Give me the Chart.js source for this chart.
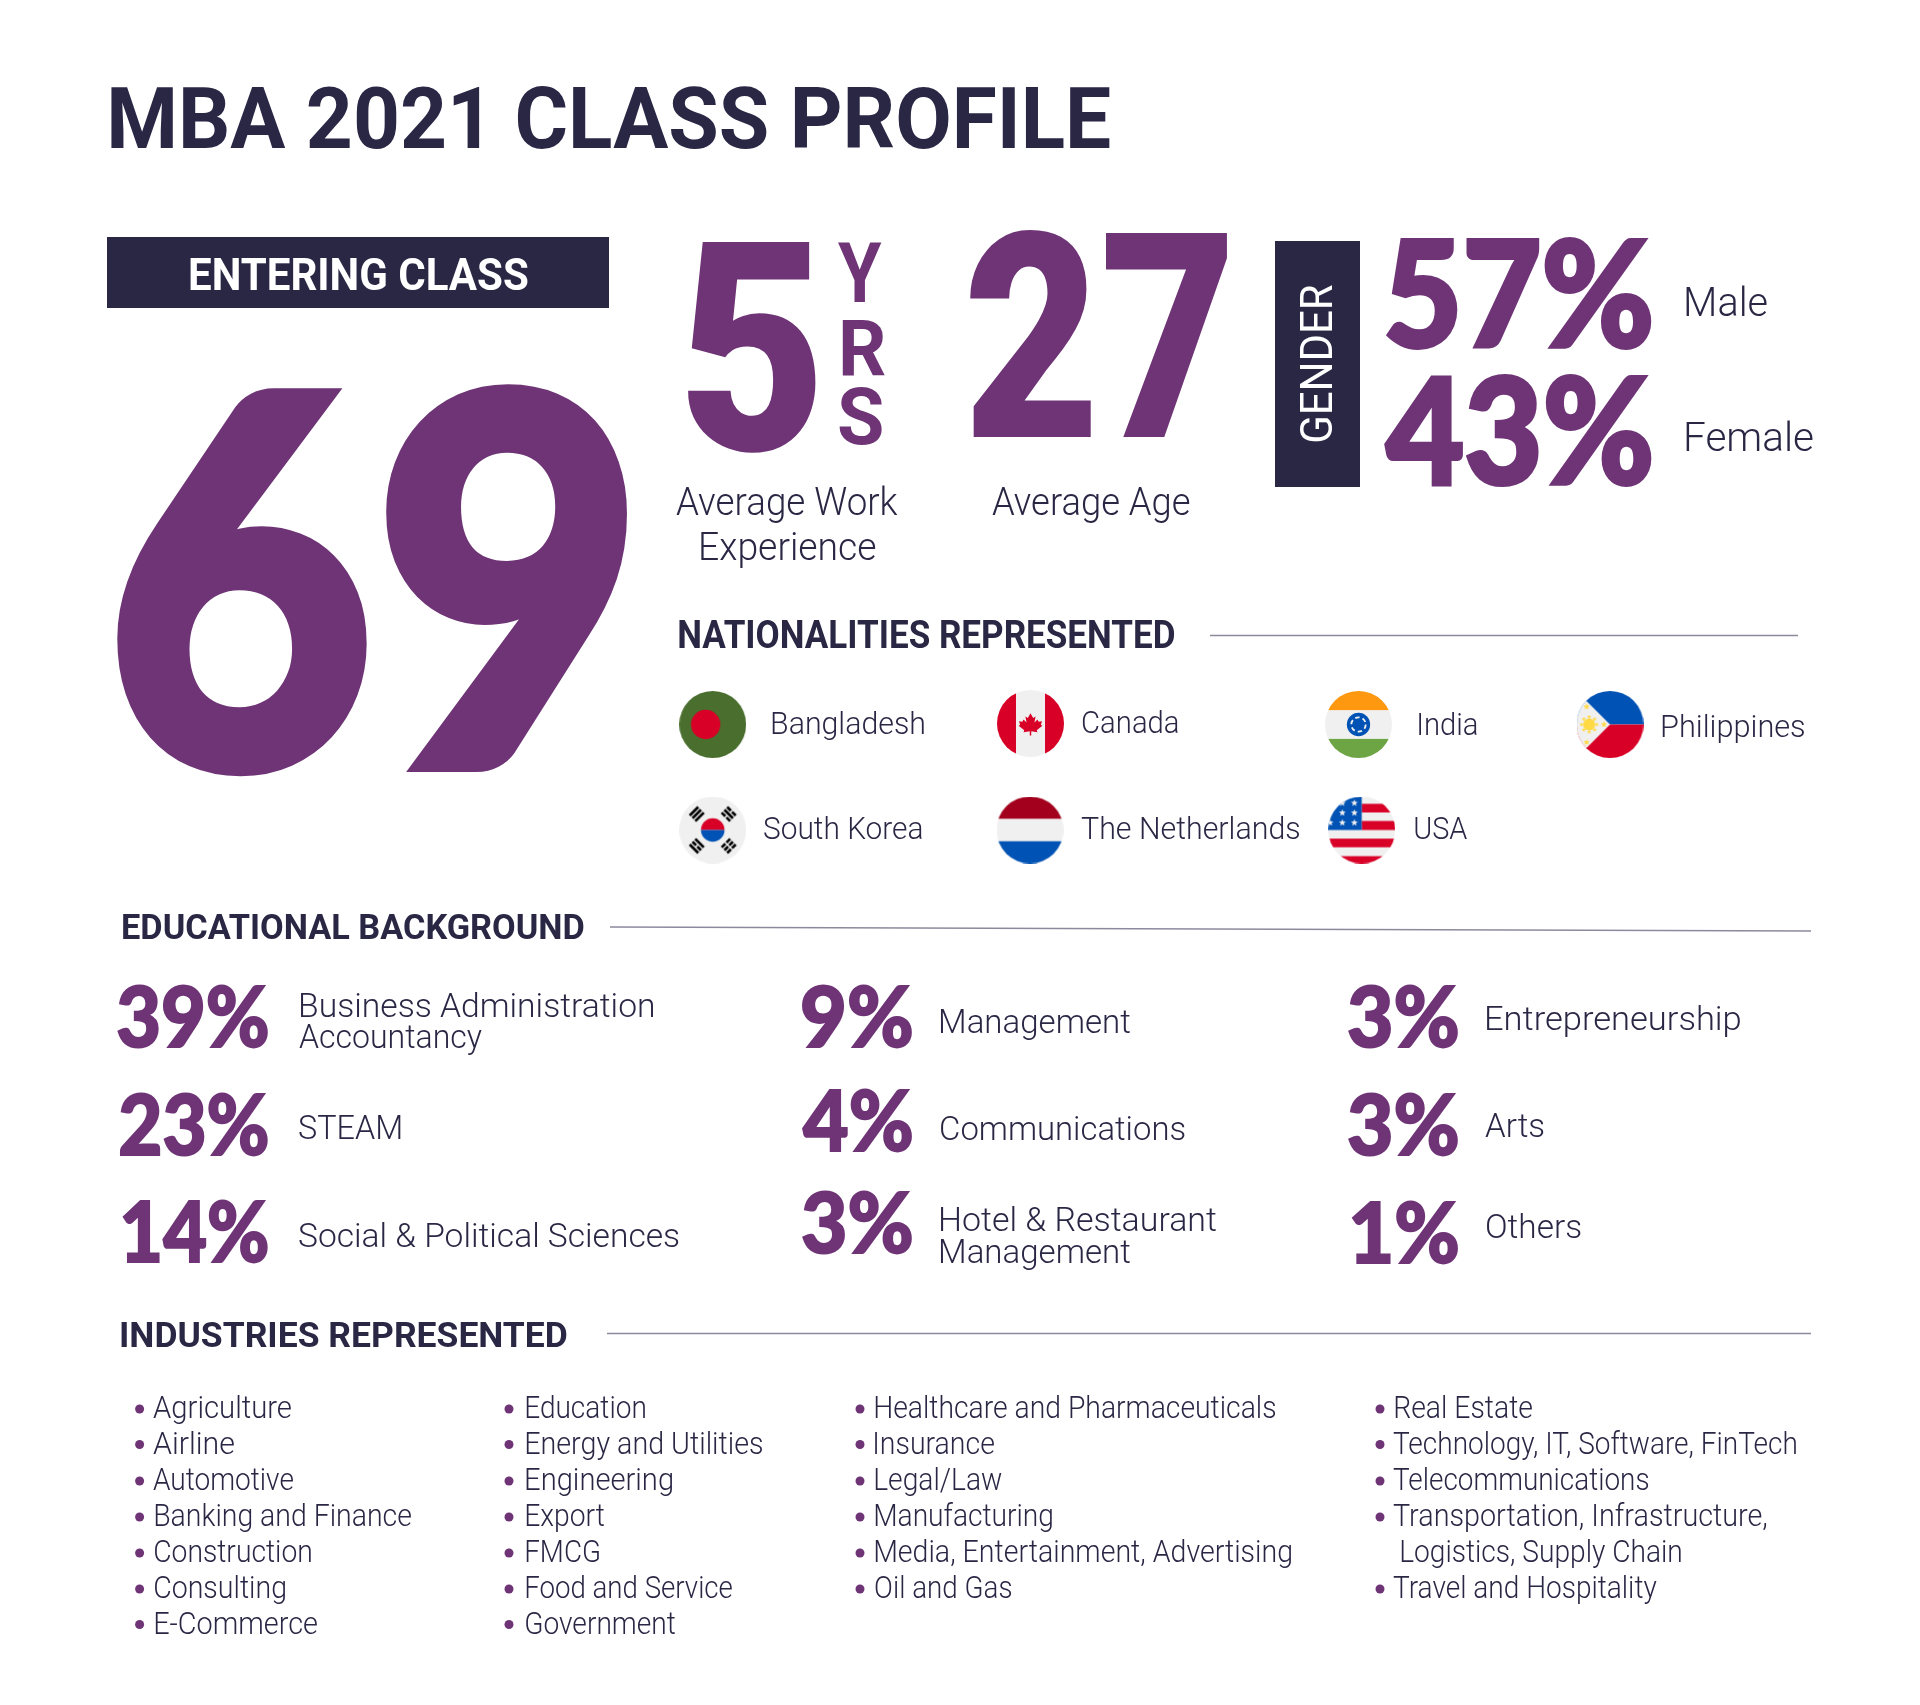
<!DOCTYPE html>
<html>
<head>
<meta charset="utf-8">
<title>MBA 2021 Class Profile</title>
<style>
  html, body { margin: 0; padding: 0; background: #fff; }
  canvas { display: block; }
</style>
<script src="https://cdn.jsdelivr.net/npm/chart.js@4"></script>
</head>
<body>
<canvas id="profile" width="1920" height="1705"></canvas>
<script>
// data
const pageTitle = 'MBA 2021 CLASS PROFILE';
const enteringClass = 69;
const workYears = 5;
const averageAge = 27;
const genderLabels = ['Male', 'Female'];
const genderValues = [57, 43];
const nationalities = ['Bangladesh', 'Canada', 'India', 'Philippines', 'South Korea', 'The Netherlands', 'USA'];
const eduValues = [39, 23, 14, 9, 4, 3, 3, 3, 1];
const eduLabels = [
    ['Business Administration', 'Accountancy'], ['STEAM'], ['Social & Political Sciences'],
    ['Management'], ['Communications'], ['Hotel & Restaurant', 'Management'],
    ['Entrepreneurship'], ['Arts'], ['Others'],
];
const industriesA = ['Agriculture', 'Airline', 'Automotive', 'Banking and Finance', 'Construction', 'Consulting', 'E-Commerce'];
const industriesB = ['Education', 'Energy and Utilities', 'Engineering', 'Export', 'FMCG', 'Food and Service', 'Government'];
const industriesC = ['Healthcare and Pharmaceuticals', 'Insurance', 'Legal/Law', 'Manufacturing', 'Media, Entertainment, Advertising', 'Oil and Gas'];
const industriesD = ['Real Estate', 'Technology, IT, Software, FinTech', 'Telecommunications', 'Transportation, Infrastructure,', 'Logistics, Supply Chain', 'Travel and Hospitality'];

// colours and text styles
const NAVY = '#2a2745';
const PURPLE = '#6e3476';
const RULE = '#8b8a9c';
const BODY = 'Roboto';
const DIGITS = 'Lato';

const texts = [];
function put(str, left, right, base, weight, cap, color, font, rotated, heavy) {
    texts.push({ str: String(str), left, right, base, weight, cap, color, font: font || BODY, rotated: !!rotated, heavy: heavy || 0 });
}
// letters with a side bearing start a little further in than the measured ink says
const inkLeft = (str, x) => x + (/^[ATS]/.test(str) ? 0 : 2);

// header block
put(pageTitle, 111, 1110, 148, 700, 61, NAVY);
put('ENTERING CLASS', 190, 528, 290, 700, 31, '#fff');
put(enteringClass, 114, 634, 766, 900, 369, PURPLE, DIGITS, false, 12);
put(workYears, 686, 818, 450, 900, 208, PURPLE);
put('Y', 838, 882, 302, 700, 59, PURPLE);
put('R', 842, 885, 376, 700, 55, PURPLE);
put('S', 839, 882, 444, 700, 56, PURPLE);
put('Average Work', 676, 898, 515, 300, 27, NAVY);
put('Experience', 701, 876, 560, 300, 27, NAVY);
put(averageAge, 967, 1229, 437, 900, 204, PURPLE);
put('Average Age', 992, 1190, 515, 300, 27, NAVY);
put('GENDER', 1332, 1489, 442, 400, 32, '#fff', BODY, true);

// gender rows
const genderValueX = [[1386, 1652], [1384, 1652]];
const genderValueBase = [347, 484];
const genderLabelRight = [1767, 1813];
const genderLabelBase = [316, 451];
genderValues.forEach((v, i) => put(v + '%', genderValueX[i][0], genderValueX[i][1], genderValueBase[i], 900, 106, PURPLE, DIGITS, false, 4));
genderLabels.forEach((l, i) => put(l, 1686, genderLabelRight[i], genderLabelBase[i], 300, 29, NAVY));

// nationalities
put('NATIONALITIES REPRESENTED', 679, 1174, 648, 700, 28, NAVY);
const flagX = [712.7, 1030.5, 1358.5, 1610, 712.7, 1030, 1361.7];
const flagY = [724.5, 723.5, 724.5, 724.5, 830, 830, 830];
const natLeft = [772, 1083, 1419, 1662, 764, 1081, 1415];
const natRight = [924, 1178, 1477, 1804, 922, 1299, 1467];
const natBase = [734, 733, 735, 737, 839, 839, 839];
nationalities.forEach((n, i) => put(n, natLeft[i], natRight[i], natBase[i], 300, 22, NAVY));

// educational background
put('EDUCATIONAL BACKGROUND', 123, 584, 939, 700, 25, NAVY);
const eduValueLeft = [117, 119, 122, 802, 802, 802, 1348, 1348, 1351];
const eduValueRight = [268, 268, 268, 912, 912, 912, 1458, 1458, 1458];
const eduValueBase = [1047, 1155, 1262, 1047, 1151, 1253, 1047, 1155, 1263];
eduValues.forEach((v, i) => put(v + '%', eduValueLeft[i], eduValueRight[i], eduValueBase[i], 900, 60, PURPLE, DIGITS, false, 2));
const eduLabelLeft = [299, 299, 299, 939, 939, 939, 1485, 1485, 1485];
const eduLabelRight = [[654, 482], [401], [679], [1130], [1185], [1216, 1130], [1740], [1544], [1581]];
const eduLabelBase = [[1017, 1048], [1139], [1247], [1033], [1140], [1231, 1263], [1030], [1137], [1238]];
eduLabels.forEach((lines, i) => lines.forEach((l, j) => put(l, inkLeft(l, eduLabelLeft[i]), eduLabelRight[i][j], eduLabelBase[i][j], 300, 24, NAVY)));

// industries
put('INDUSTRIES REPRESENTED', 121, 567, 1347, 700, 25, NAVY);
const rowBase = [1418, 1453.5, 1490, 1526, 1562, 1598, 1633.5];
const listRight = [
    [291, 234, 293, 411, 311, 285, 317],
    [645, 762, 672, 604, 599, 732, 675],
    [1275, 994, 1002, 1052, 1291, 1011],
    [1532, 1796, 1648, 1767, 1681, 1657],
];
const listLeft = [153, 524, 873, 1393];
const bulletX = [139.6, 509, 860, 1380];
const bullets = [];
[industriesA, industriesB, industriesC, industriesD].forEach((list, c) => {
    list.forEach((name, r) => {
        const wrapped = name === 'Logistics, Supply Chain';
        put(name, wrapped ? 1401 : inkLeft(name, listLeft[c]), listRight[c][r], rowBase[r], 300, 22, NAVY);
        if (!wrapped) bullets.push({ x: bulletX[c], y: rowBase[r] - 9 });
    });
});

// flags, drawn on a 512 unit square then used as point styles
function star(g, cx, cy, r) {
    g.beginPath();
    for (let i = 0; i < 10; i++) {
        const a = -Math.PI / 2 + i * Math.PI / 5;
        const rr = i % 2 ? r * 0.42 : r;
        g.lineTo(cx + rr * Math.cos(a), cy + rr * Math.sin(a));
    }
    g.closePath();
    g.fill();
}
function poly(g, pts) {
    g.beginPath();
    pts.forEach(p => g.lineTo(p[0], p[1]));
    g.closePath();
    g.fill();
}
function rect(g, color, x, y, w, h) {
    g.fillStyle = color;
    g.fillRect(x, y, w, h);
}
const WHITE = '#f0f0f0', RED = '#d80027', BLUE = '#0052b4', YELLOW = '#ffda44';
const flagPainters = [
    g => { // Bangladesh
        rect(g, '#496e2d', 0, 0, 512, 512);
        g.fillStyle = RED;
        g.beginPath(); g.arc(202, 256, 112, 0, 7); g.fill();
    },
    g => { // Canada
        rect(g, WHITE, 0, 0, 512, 512);
        rect(g, RED, 0, 0, 145, 512);
        rect(g, RED, 367, 0, 145, 512);
        g.fillStyle = RED;
        const leaf = [[256, 160], [284, 210], [310, 196], [298, 258], [330, 228], [342, 252], [378, 246], [366, 284],
            [382, 294], [322, 340], [330, 362], [264, 352], [264, 396], [248, 396], [248, 352], [182, 362],
            [190, 340], [130, 294], [146, 284], [134, 246], [170, 252], [182, 228], [214, 258], [202, 196], [228, 210]];
        poly(g, leaf.map(p => [256 + (p[0] - 256) * 0.72, 260 + (p[1] - 275) * 0.72]));
    },
    g => { // India
        rect(g, WHITE, 0, 0, 512, 512);
        rect(g, '#ff9811', 0, 0, 512, 146);
        rect(g, '#6da544', 0, 366, 512, 146);
        g.fillStyle = BLUE;
        g.beginPath(); g.arc(256, 256, 89, 0, 7); g.fill();
        g.strokeStyle = WHITE; g.lineWidth = 14; g.setLineDash([34, 24]);
        g.beginPath(); g.arc(256, 256, 55, 0, 7); g.stroke();
    },
    g => { // Philippines
        rect(g, BLUE, 0, 0, 512, 256);
        rect(g, RED, 0, 256, 512, 256);
        g.fillStyle = WHITE;
        poly(g, [[0, 0], [256, 256], [0, 512]]);
        g.fillStyle = YELLOW;
        g.beginPath(); g.arc(97, 256, 46, 0, 7); g.fill();
        for (let i = 0; i < 8; i++) {
            const a = i * Math.PI / 4;
            star(g, 97 + 58 * Math.cos(a), 256 + 58 * Math.sin(a), 18);
        }
        star(g, 77, 120, 26);
        star(g, 210, 256, 26);
        star(g, 77, 392, 26);
    },
    g => { // South Korea
        rect(g, WHITE, 0, 0, 512, 512);
        g.fillStyle = RED;
        g.beginPath(); g.arc(256, 256, 90, Math.PI, 0); g.fill();
        g.fillStyle = BLUE;
        g.beginPath(); g.arc(256, 256, 90, 0, Math.PI); g.fill();
        const corners = [[-1, -1, [0, 0, 0]], [1, -1, [1, 0, 1]], [-1, 1, [0, 1, 0]], [1, 1, [1, 1, 1]]];
        g.fillStyle = '#000';
        corners.forEach(c => {
            g.save();
            g.translate(256 + c[0] * 122, 256 + c[1] * 122);
            g.rotate(Math.atan2(c[1], c[0]) + Math.PI / 2);
            c[2].forEach((broken, k) => {
                const y = (k - 1) * 30 - 10;
                if (broken) { g.fillRect(-46, y, 40, 20); g.fillRect(6, y, 40, 20); }
                else g.fillRect(-46, y, 92, 20);
            });
            g.restore();
        });
    },
    g => { // Netherlands
        rect(g, WHITE, 0, 0, 512, 512);
        rect(g, '#a2001d', 0, 0, 512, 170);
        rect(g, BLUE, 0, 342, 512, 170);
    },
    g => { // USA
        rect(g, WHITE, 0, 0, 512, 512);
        rect(g, RED, 256, 56, 256, 66);
        rect(g, RED, 256, 187, 256, 69);
        rect(g, RED, 0, 322, 512, 66);
        rect(g, RED, 0, 456, 512, 56);
        rect(g, BLUE, 0, 0, 256, 256);
        g.fillStyle = WHITE;
        [[200, 50], [108, 125], [200, 125], [14, 200], [108, 200], [200, 200], [108, 50]].forEach(s => star(g, s[0], s[1], 28));
    },
];
const flagIcons = flagPainters.map(paint => {
    const c = document.createElement('canvas');
    c.width = 67; c.height = 67;
    const g = c.getContext('2d');
    g.beginPath(); g.arc(33.5, 33.5, 33.5, 0, Math.PI * 2); g.clip();
    g.scale(67 / 512, 67 / 512);
    paint(g);
    return c;
});

// draws the text items at their points
const textPlugin = {
    id: 'textItems',
    afterDatasetsDraw(chart) {
        const ctx = chart.ctx;
        const points = chart.getDatasetMeta(0).data;
        const xs = chart.scales.x;
        texts.forEach((t, i) => {
            const p = points[i];
            const capRatio = t.font === DIGITS ? 0.72 : 0.711;
            ctx.save();
            ctx.font = t.weight + ' ' + (t.cap / capRatio) + 'px ' + t.font;
            ctx.fillStyle = t.color;
            ctx.textBaseline = 'alphabetic';
            const m = ctx.measureText(t.str);
            const ink = m.actualBoundingBoxLeft + m.actualBoundingBoxRight;
            const sx = (xs.getPixelForValue(t.right) - xs.getPixelForValue(t.left) - t.heavy) / ink;
            ctx.translate(p.x + t.heavy / 2, p.y);
            if (t.rotated) ctx.rotate(-Math.PI / 2);
            ctx.scale(sx, 1);
            ctx.fillText(t.str, m.actualBoundingBoxLeft, 0);
            if (t.heavy) {
                // Lato Black is lighter than the reference numerals
                ctx.strokeStyle = t.color;
                ctx.lineWidth = t.heavy;
                ctx.lineJoin = 'miter';
                ctx.strokeText(t.str, m.actualBoundingBoxLeft, 0);
            }
            ctx.restore();
        });
    },
};

const bar = (x1, x2, y1, y2, width, color) => ({
    data: [{ x: x1, y: y1 }, { x: x2, y: y2 }],
    showLine: true, borderWidth: width, borderColor: color, pointRadius: 0, borderCapStyle: 'butt',
});

new Chart(document.getElementById('profile').getContext('2d'), {
    type: 'scatter',
    data: {
        datasets: [
            // text anchors
            {
                data: texts.map(t => ({ x: t.left, y: t.base })),
                pointRadius: 0,
            },
            bar(107, 609, 272.5, 272.5, 71, NAVY),
            bar(1275, 1360, 364, 364, 246, NAVY),
            bar(1210, 1798, 635.5, 635.5, 1.3, RULE),
            bar(610, 1811, 927, 931, 1.3, RULE),
            bar(607, 1811, 1333.5, 1333.5, 1.3, RULE),
            {
                data: bullets,
                pointRadius: 4.5, pointBackgroundColor: PURPLE, pointBorderWidth: 0,
            },
            {
                data: flagX.map((x, i) => ({ x, y: flagY[i] })),
                pointStyle: flagIcons,
                pointRadius: 33,
            },
        ],
    },
    options: {
        responsive: false,
        devicePixelRatio: 1,
        animation: false,
        layout: { padding: 0, autoPadding: false },
        plugins: { legend: { display: false }, tooltip: { enabled: false } },
        scales: {
            x: { type: 'linear', min: 0, max: 1920, display: false },
            y: { type: 'linear', min: 0, max: 1705, reverse: true, display: false },
        },
    },
    plugins: [textPlugin],
});
</script>
</body>
</html>
